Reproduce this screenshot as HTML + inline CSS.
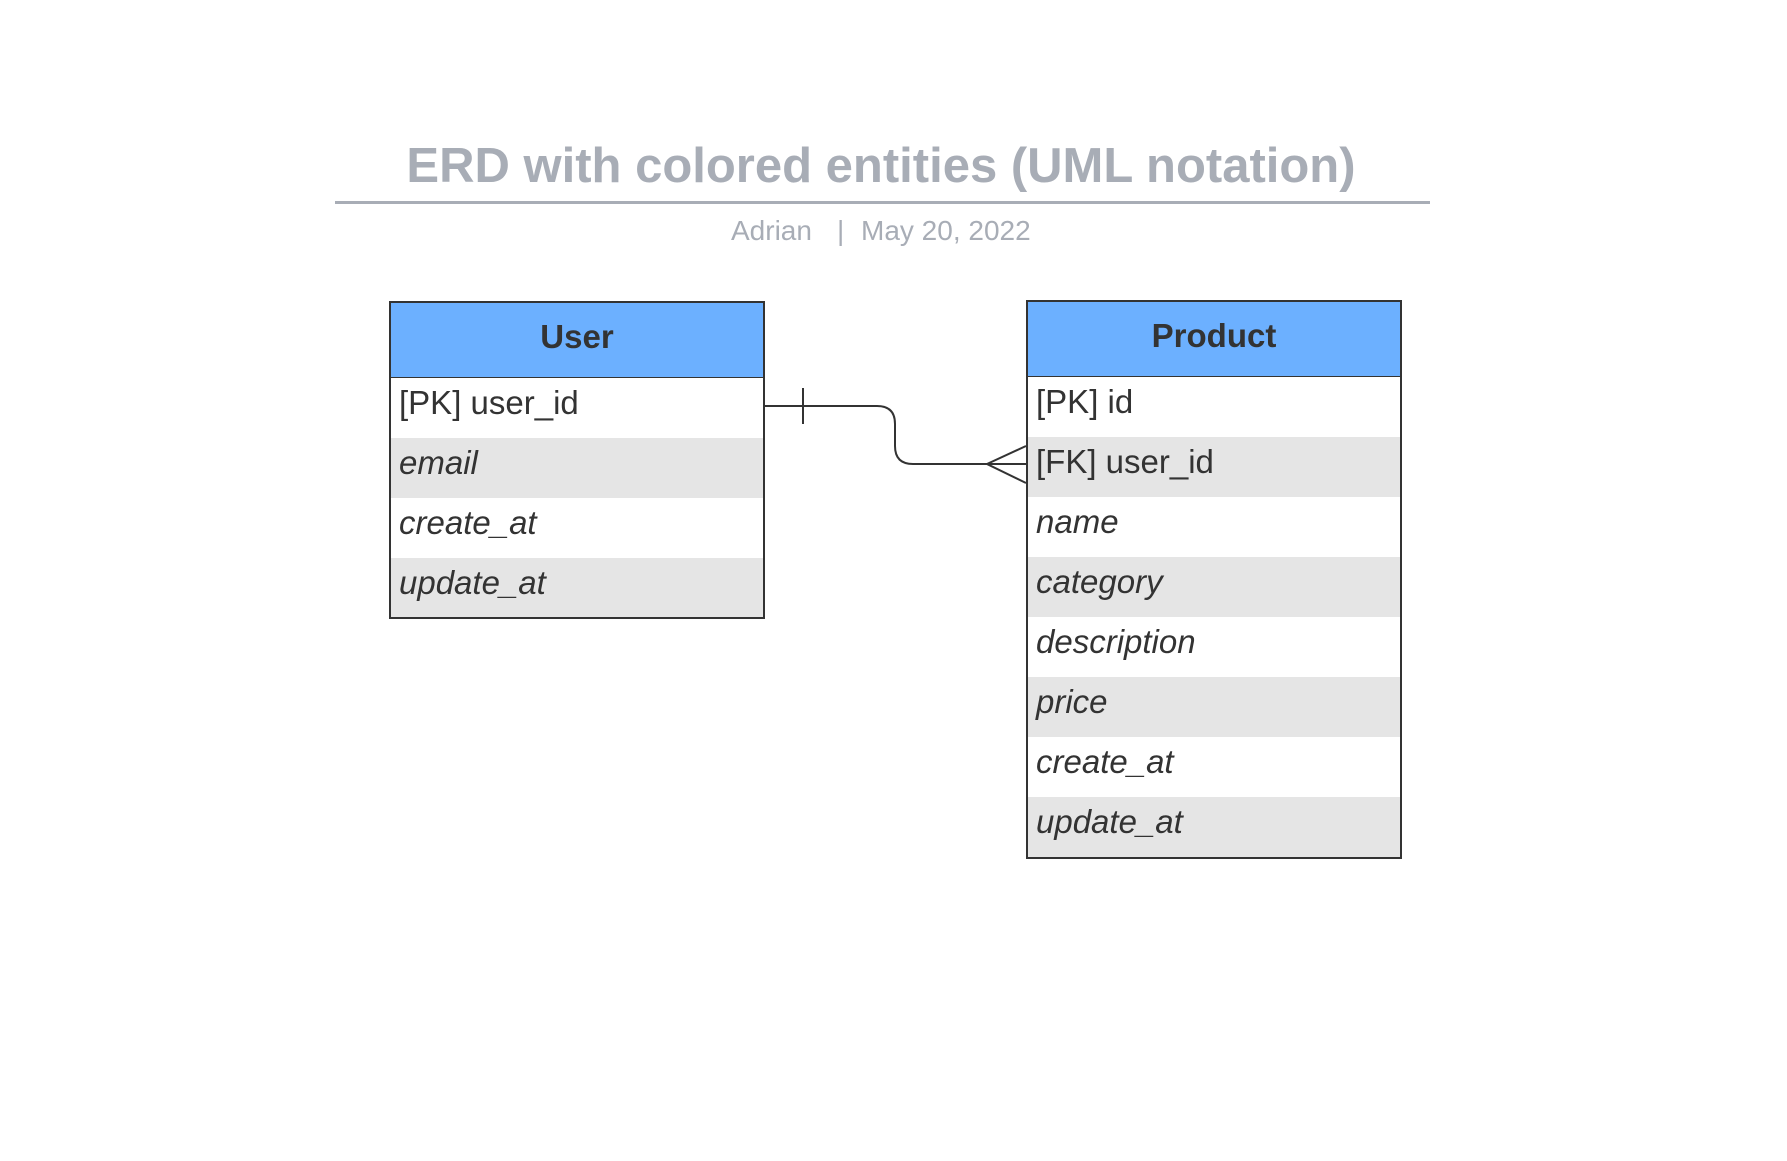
<!DOCTYPE html>
<html><head><meta charset="utf-8"><style>
body{margin:0;width:1787px;height:1161px;background:#fff;position:relative;overflow:hidden;font-family:"Liberation Sans",sans-serif;}
.t{position:absolute;white-space:nowrap}
.box{position:absolute;border:2px solid #333;box-sizing:border-box;overflow:hidden}
.hd{background:#6cb0ff;border-bottom:1.5px solid #333;font-weight:bold;font-size:33px;color:#333;text-align:center;box-sizing:border-box;}
.r{font-size:33px;color:#333;padding-left:8px;box-sizing:border-box;height:60px;line-height:50px}
.g{background:#e5e5e5}
.i{font-style:italic}
</style></head><body>
<div class="t" style="left:0;width:1762px;top:138px;text-align:center;font-size:49px;font-weight:bold;color:#a8adb6;">ERD with colored entities (UML notation)</div>
<div style="position:absolute;left:335px;top:201px;width:1095px;height:3px;background:#a8adb6"></div>
<div class="t" style="left:731px;top:215px;font-size:28px;color:#a8adb6">Adrian</div>
<div class="t" style="left:837px;top:215px;font-size:28px;color:#a8adb6">|</div>
<div class="t" style="left:861px;top:215px;font-size:28px;color:#a8adb6">May 20, 2022</div>

<div class="box" style="left:389px;top:301px;width:376px;height:318px">
<div class="hd" style="height:75px;line-height:68px">User</div>
<div class="r">[PK] user_id</div>
<div class="r g i">email</div>
<div class="r i">create_at</div>
<div class="r g i">update_at</div>
</div>

<div class="box" style="left:1026px;top:300px;width:376px;height:559px">
<div class="hd" style="height:75px;line-height:68px">Product</div>
<div class="r">[PK] id</div>
<div class="r g">[FK] user_id</div>
<div class="r i">name</div>
<div class="r g i">category</div>
<div class="r i">description</div>
<div class="r g i">price</div>
<div class="r i">create_at</div>
<div class="r g i">update_at</div>
</div>

<svg style="position:absolute;left:0;top:0" width="1787" height="1161">
<path d="M765 406 H877 Q895 406 895 424 V446 Q895 464 913 464 H1026" fill="none" stroke="#333" stroke-width="2"/>
<line x1="803" y1="388" x2="803" y2="424" stroke="#333" stroke-width="2"/>
<path d="M1026 446 L987 464 L1026 483" fill="none" stroke="#333" stroke-width="2"/>
</svg>
</body></html>
